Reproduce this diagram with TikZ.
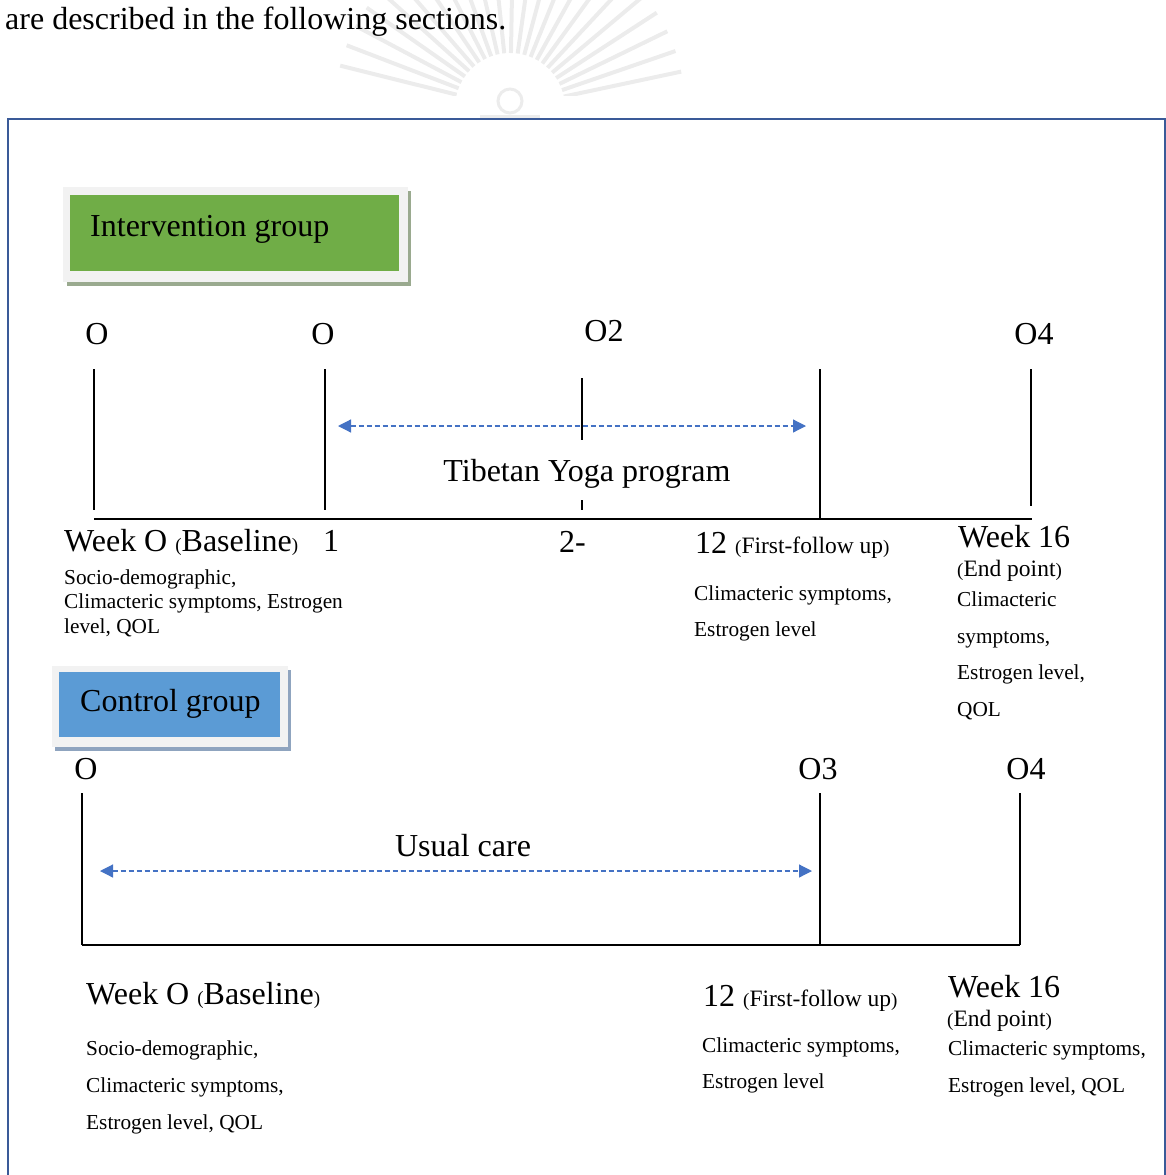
\documentclass[tikz,border=0pt]{standalone}
\usepackage{fontspec}
\setmainfont{Liberation Serif}
\usetikzlibrary{arrows.meta}
\definecolor{frameblue}{HTML}{3A5A98}
\definecolor{igreen}{HTML}{70AD47}
\definecolor{cblue}{HTML}{5B9BD5}
\definecolor{arrblue}{HTML}{4472C4}
\definecolor{lgray}{HTML}{F2F2F2}
\definecolor{gshadow}{HTML}{9AAA8F}
\definecolor{bshadow}{HTML}{8FA4BF}
\definecolor{wm}{HTML}{ECECEC}
\tikzset{
  big/.style={font=\fontsize{32}{36}\selectfont, inner sep=0pt, anchor=base west},
  mid/.style={font=\fontsize{23.5}{27}\selectfont, inner sep=0pt, anchor=base west},
  small/.style={font=\fontsize{21.3}{25}\selectfont, inner sep=0pt, anchor=base west},
  tline/.style={line width=2pt, black},
  darrow/.style={arrblue, dash pattern=on 5pt off 3pt, line width=1.2pt, {Triangle[length=13pt,width=13pt]}-{Triangle[length=13pt,width=13pt]}},
}
\newcommand{\smp}[1]{{\fontsize{19}{22}\selectfont #1}}
\begin{document}
\begin{tikzpicture}[x=1pt,y=-1pt]
\useasboundingbox (0,0) rectangle (1166,1175);
% watermark
\foreach \a in {12,19,...,170} {
  \draw[wm, line width=4pt] ({510+55*cos(\a)},{108-55*sin(\a)}) -- ({510+175*cos(\a)},{108-175*sin(\a)});
}
\fill[white] (300,96) rectangle (720,125);
\draw[wm, line width=3pt] (510,101) circle (12);
\draw[wm, line width=3pt] (480,116) -- (540,116);
% top sentence
\node[font=\fontsize{32}{36}\selectfont, inner sep=0pt, anchor=base west] (sent) at (5,29) {are described in the following sections.};
% frame
\draw[frameblue, line width=2pt] (8,1185) -- (8,119) -- (1165,119) -- (1165,1185);
% intervention box
\fill[gshadow] (67,191) rectangle (411,286);
\fill[lgray] (63,187) rectangle (408,282);
\node[fill=igreen, minimum width=329pt, minimum height=76pt, anchor=north west, inner sep=0pt] (ibox) at (70,195) {};
\node[big] (ilab) at (90,236) {Intervention group};
% control box
\fill[bshadow] (55,670) rectangle (291,751);
\fill[lgray] (52,666) rectangle (288,747);
\node[fill=cblue, minimum width=221pt, minimum height=65pt, anchor=north west, inner sep=0pt] (cbox) at (59,672) {};
\node[big] (clab) at (80,711) {Control group};
% intervention timeline
\node[big, anchor=base] (o0) at (97,344) {O};
\node[big, anchor=base] (o1) at (323,344) {O};
\node[big, anchor=base] (o2) at (604,341) {O2};
\node[big, anchor=base] (o4) at (1034,344) {O4};
\coordinate (a1) at (94,369); \coordinate (a2) at (94,510);
\coordinate (b1) at (325,369); \coordinate (b2) at (325,510);
\coordinate (c1) at (582,378); \coordinate (c2) at (582,440);
\coordinate (c3) at (582,500); \coordinate (c4) at (582,510);
\coordinate (d1) at (820,369); \coordinate (d2) at (820,519);
\coordinate (e1) at (1031,369); \coordinate (e2) at (1031,506);
\coordinate (h1) at (94,519); \coordinate (h2) at (1032,519);
\draw[tline] (a1) -- (a2);
\draw[tline] (b1) -- (b2);
\draw[tline] (c1) -- (c2);
\draw[tline] (c3) -- (c4);
\draw[tline] (d1) -- (d2);
\draw[tline] (e1) -- (e2);
\draw[tline] (h1) -- (h2);
\coordinate (ar1) at (338,426); \coordinate (ar2) at (806,426);
\draw[darrow] (ar1) -- (ar2);
\node[big, anchor=base] (tib) at (587,481) {Tibetan Yoga program};
\node[big] (w0) at (64,551) {Week O \smp{(}Baseline\smp{)}};
\node[big] (one) at (323,551) {1};
\node[big] (two) at (559,552) {2-};
\node[big] (tw) at (695,553) {12 {\fontsize{23.5}{27}\selectfont\smp{(}First-follow up\smp{)}}};
\node[big] (w16) at (958,547) {Week 16};
\node[mid] (ep) at (957,576) {\smp{(}End point\smp{)}};
\node[small] (s1) at (64,584) {Socio-demographic,};
\node[small] (s2) at (64,608) {Climacteric symptoms, Estrogen};
\node[small] (s3) at (64,633) {level, QOL};
\node[small] (m1) at (694,600) {Climacteric symptoms,};
\node[small] (m2) at (694,636) {Estrogen level};
\node[small] (r1) at (957,606) {Climacteric};
\node[small] (r2) at (957,643) {symptoms,};
\node[small] (r3) at (957,679) {Estrogen level,};
\node[small] (r4) at (957,716) {QOL};
% control timeline
\node[big, anchor=base] (p0) at (86,779) {O};
\node[big, anchor=base] (p3) at (818,779) {O3};
\node[big, anchor=base] (p4) at (1026,779) {O4};
\coordinate (f1) at (82,793); \coordinate (f2) at (82,945);
\coordinate (g1) at (820,793); \coordinate (g2) at (820,945);
\coordinate (k1) at (1020,793); \coordinate (k2) at (1020,945);
\draw[tline] (f1) -- (f2);
\draw[tline] (g1) -- (g2);
\draw[tline] (k1) -- (k2);
\draw[tline] (f2) -- (k2);
\coordinate (br1) at (100,871); \coordinate (br2) at (812,871);
\draw[darrow] (br1) -- (br2);
\node[big, anchor=base] (uc) at (463,856) {Usual care};
\node[big] (cw0) at (86,1004) {Week O \smp{(}Baseline\smp{)}};
\node[big] (ctw) at (703,1006) {12 {\fontsize{23.5}{27}\selectfont\smp{(}First-follow up\smp{)}}};
\node[big] (cw16) at (948,997) {Week 16};
\node[mid] (cep) at (947,1026) {\smp{(}End point\smp{)}};
\node[small] (t1) at (86,1055) {Socio-demographic,};
\node[small] (t2) at (86,1092) {Climacteric symptoms,};
\node[small] (t3) at (86,1129) {Estrogen level, QOL};
\node[small] (u1) at (702,1052) {Climacteric symptoms,};
\node[small] (u2) at (702,1088) {Estrogen level};
\node[small] (v1) at (948,1055) {Climacteric symptoms,};
\node[small] (v2) at (948,1092) {Estrogen level, QOL};
\end{tikzpicture}
\end{document}
